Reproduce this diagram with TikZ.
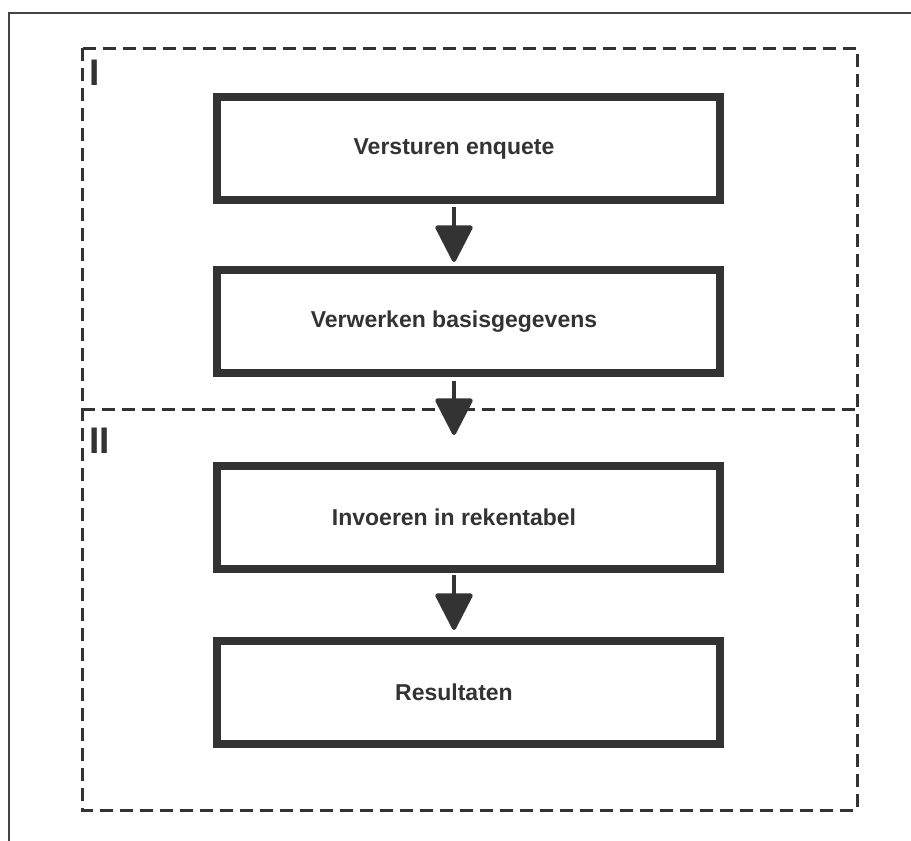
\documentclass[tikz,border=0pt]{standalone}
\usepackage{fontspec}
\setmainfont{Liberation Sans}
\usetikzlibrary{arrows.meta}
\definecolor{ink}{HTML}{333333}
\definecolor{frameink}{HTML}{444444}
\tikzset{
  x=1pt, y=-1pt,
  stepbox/.style={draw=ink, line width=8pt, minimum width=503pt, minimum height=103pt, inner sep=0pt},
  boxtext/.style={font=\fontsize{23}{27}\selectfont\bfseries, text=ink, inner sep=0pt},
  flowarrow/.style={draw=ink, line width=4pt, -{Triangle[length=39pt,width=39pt,round]}},
  phase/.style={draw=ink, line width=3pt, dash pattern=on 13pt off 7pt},
  phaselabel/.style={font=\fontsize{37}{40}\selectfont\bfseries, text=ink, inner sep=0pt, anchor=base west},
}
\begin{document}
\begin{tikzpicture}
\useasboundingbox (0,0) rectangle (911,841);
% outer frame
\draw[frameink, line width=2pt] (911,13) -- (9,13) -- (9,841);
% phase frames
\draw[phase] (82,48) rectangle (857,810);
\draw[phase] (82,409) -- (857,409);
\node[phaselabel] (lI) at (89.5,85) {I};
\node[phaselabel] (lII) at (89.5,453) {II};
% boxes
\coordinate (ax) at (454,0);
\node[stepbox, label={[boxtext, xshift=-14.5pt]center:Versturen enquete}] (b1) at (468.5,148.5) {};
\node[stepbox, label={[boxtext, xshift=-14.5pt]center:Verwerken basisgegevens}] (b2) at (468.5,321.5) {};
\node[stepbox, label={[boxtext, xshift=-14.5pt]center:Invoeren in rekentabel}] (b3) at (468.5,517.5) {};
\node[stepbox, label={[boxtext, xshift=-14.5pt]center:Resultaten}] (b4) at (468.5,692.5) {};
% arrows
\draw[flowarrow, shorten <=3pt, shorten >=4pt] (b1.south -| ax) -- (b2.north -| ax);
\draw[flowarrow, shorten <=4pt, shorten >=27pt] (b2.south -| ax) -- (b3.north -| ax);
\draw[flowarrow, shorten <=2pt, shorten >=7pt] (b3.south -| ax) -- (b4.north -| ax);
\end{tikzpicture}
\end{document}
